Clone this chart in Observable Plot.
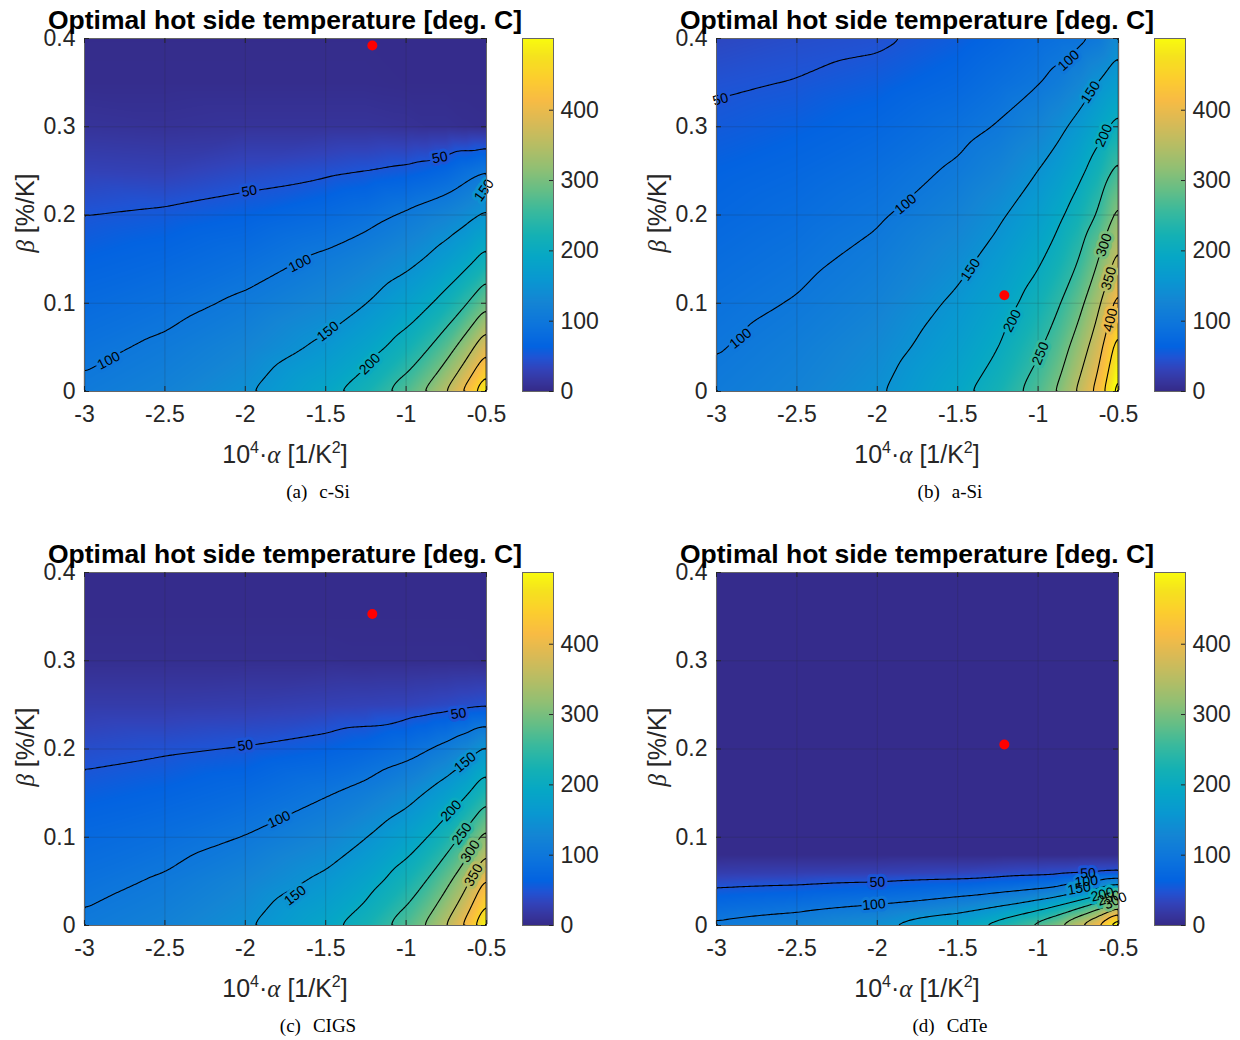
<!DOCTYPE html>
<html>
<head>
<meta charset="utf-8">
<script src="https://cdn.jsdelivr.net/npm/d3@7"></script>
<script src="https://cdn.jsdelivr.net/npm/@observablehq/plot@0.6"></script>
<style>
  html, body { margin: 0; padding: 0; background: #fff; }
  #fig { position: relative; width: 1240px; height: 1040px; overflow: hidden;
         font-family: "Liberation Sans", Arial, Helvetica, sans-serif; color: #262626; }
  .abs { position: absolute; }
  .title { font-weight: bold; font-size: 26.5px; line-height: 26px; color: #000; white-space: nowrap; transform: translateX(-50%); }
  .xlabel { font-size: 25px; line-height: 25px; white-space: nowrap; transform: translateX(-50%); }
  .ylabel { font-size: 25px; line-height: 25px; white-space: nowrap; transform: translate(-50%,-50%) rotate(-90deg); }
  .greek { font-family: "Liberation Serif", "DejaVu Serif", serif; font-style: italic; }
  .sup { font-size: 16px; position: relative; top: -10px; }
  .caption { font-family: "Liberation Serif", "Times New Roman", serif; font-size: 19px; line-height: 19px; color: #000; white-space: nowrap; transform: translateX(-50%); }
  svg { overflow: visible; }
</style>
</head>
<body>
<div id="fig"></div>
<script>
// ---------------- data ----------------
// grid of alpha (x, 10^4·α in 1/K^2) columns and beta (y, %/K) rows
const alphaCols = [-3, -2.5, -2, -1.5, -1.25, -1, -0.875, -0.75, -0.625, -0.5];
const betaRows = [0, 0.05, 0.1, 0.15, 0.2, 0.25, 0.3, 0.35, 0.4];
const betaRowsCdTe = [0, 0.02, 0.04, 0.06, 0.08, 0.4];

// optimal hot-side temperature [deg C]; one inner list per alpha column, values from beta=0 upward
const tempCSi = [
  [106, 92, 78, 64, 50, 30, 12, 4, 3],
  [121, 106, 89, 72, 55, 28, 10, 4, 3],
  [146, 126, 106, 85, 63, 38, 12, 4, 3],
  [189, 158, 131, 106, 77, 45, 12, 4, 3],
  [221, 182, 149, 120, 88, 50, 12, 4, 3],
  [271, 218, 176, 139, 105, 56, 10, 3, 3],
  [305, 244, 193, 152, 115, 62, 8, 3, 3],
  [352, 278, 216, 168, 125, 71, 8, 3, 3],
  [415, 326, 247, 187, 139, 87, 6, 3, 3],
  [495, 390, 292, 214, 156, 100, 5, 3, 3]
];
const tempASi = [
  [107, 98, 90, 81, 72, 64, 55, 47, 36],
  [122, 113, 102, 92, 82, 72, 61, 51, 42],
  [146, 134, 121, 109, 96, 84, 71, 58, 46],
  [189, 172, 157, 139, 122, 105, 89, 72, 58],
  [221, 199, 181, 163, 144, 123, 102, 85, 69],
  [270, 243, 218, 194, 172, 150, 124, 98, 82],
  [305, 275, 245, 217, 192, 167, 141, 109, 88],
  [357, 321, 284, 248, 218, 189, 161, 127, 92],
  [417, 379, 340, 298, 254, 220, 186, 151, 104],
  [530, 478, 422, 367, 315, 265, 212, 171, 138]
];
const tempCIGS = [
  [106, 90, 75, 59, 42, 22, 6, 3, 3],
  [121, 104, 85, 66, 47, 22, 6, 3, 3],
  [146, 126, 101, 77, 52, 24, 6, 3, 3],
  [189, 158, 127, 97, 62, 28, 6, 3, 3],
  [221, 183, 149, 112, 71, 30, 5, 3, 3],
  [271, 222, 178, 135, 86, 32, 5, 3, 3],
  [305, 250, 198, 152, 97, 35, 5, 3, 3],
  [352, 288, 226, 171, 111, 38, 5, 3, 3],
  [414, 338, 264, 195, 130, 42, 5, 3, 3],
  [500, 412, 318, 233, 157, 45, 4, 3, 3]
];
const tempCdTe = [
  [108, 81, 54, 24, 3, 3],
  [123, 92, 60, 26, 3, 3],
  [147, 107, 69, 28, 3, 3],
  [188, 133, 81, 32, 3, 3],
  [221, 155, 91, 36, 3, 3],
  [271, 188, 104, 40, 3, 3],
  [305, 212, 116, 42, 3, 3],
  [357, 246, 137, 45, 3, 3],
  [415, 289, 163, 48, 3, 3],
  [515, 350, 200, 51, 3, 3]
];

// inline contour labels: level, position (alpha, beta), text angle
const labelsCSi = [
  {level: 50, alpha: -1.975, beta: 0.227, angle: -10},
  {level: 50, alpha: -0.79, beta: 0.265, angle: -11},
  {level: 100, alpha: -2.85, beta: 0.035, angle: -27},
  {level: 100, alpha: -1.66, beta: 0.145, angle: -27},
  {level: 150, alpha: -1.486, beta: 0.068, angle: -38},
  {level: 150, alpha: -0.515, beta: 0.228, angle: -55},
  {level: 200, alpha: -1.225, beta: 0.031, angle: -45}
];
const labelsASi = [
  {level: 50, alpha: -2.975, beta: 0.331, angle: -16},
  {level: 100, alpha: -2.85, beta: 0.060, angle: -39},
  {level: 100, alpha: -1.824, beta: 0.212, angle: -40},
  {level: 100, alpha: -0.81, beta: 0.375, angle: -42},
  {level: 150, alpha: -1.42, beta: 0.138, angle: -56},
  {level: 150, alpha: -0.674, beta: 0.339, angle: -57},
  {level: 200, alpha: -1.161, beta: 0.080, angle: -63},
  {level: 200, alpha: -0.591, beta: 0.290, angle: -66},
  {level: 250, alpha: -0.985, beta: 0.043, angle: -68},
  {level: 300, alpha: -0.59, beta: 0.166, angle: -71},
  {level: 350, alpha: -0.56, beta: 0.128, angle: -73},
  {level: 400, alpha: -0.55, beta: 0.081, angle: -76}
];
const labelsCIGS = [
  {level: 50, alpha: -2.0, beta: 0.204, angle: -8},
  {level: 50, alpha: -0.674, beta: 0.240, angle: -9},
  {level: 100, alpha: -1.79, beta: 0.12, angle: -25},
  {level: 150, alpha: -1.69, beta: 0.034, angle: -38},
  {level: 150, alpha: -0.633, beta: 0.185, angle: -40},
  {level: 200, alpha: -0.72, beta: 0.13, angle: -47},
  {level: 250, alpha: -0.653, beta: 0.104, angle: -53},
  {level: 300, alpha: -0.6, beta: 0.084, angle: -57},
  {level: 350, alpha: -0.58, beta: 0.057, angle: -60}
];
const labelsCdTe = [
  {level: 50, alpha: -2.0, beta: 0.049, angle: -2},
  {level: 100, alpha: -2.02, beta: 0.0237, angle: -5},
  {level: 50, alpha: -0.69, beta: 0.059, angle: -3},
  {level: 100, alpha: -0.70, beta: 0.050, angle: -6},
  {level: 150, alpha: -0.745, beta: 0.042, angle: -10},
  {level: 200, alpha: -0.60, beta: 0.035, angle: -14},
  {level: 250, alpha: -0.56, beta: 0.031, angle: -18},
  {level: 300, alpha: -0.52, beta: 0.028, angle: -24}
];

// the material's own (alpha, beta) point (red dot)
const pointCSi = [{alpha: -1.21, beta: 0.392}];
const pointASi = [{alpha: -1.21, beta: 0.109}];
const pointCIGS = [{alpha: -1.21, beta: 0.353}];
const pointCdTe = [{alpha: -1.21, beta: 0.205}];

const panelLetters = ["a", "b", "c", "d"];
const panelNames = ["c-Si", "a-Si", "CIGS", "CdTe"];
const xTicks = [-3, -2.5, -2, -1.5, -1, -0.5];
const yTicks = [0, 0.1, 0.2, 0.3, 0.4];
const colorbarTicks = [0, 100, 200, 300, 400];
const contourLevels = [50, 100, 150, 200, 250, 300, 350, 400, 450, 500];
const colorMax = 502;
const titleText = "Optimal hot side temperature [deg. C]";

// ---------------- parula colormap ----------------
const parulaHex = ["#352a87","#3637a0","#3243ba","#2053d4","#0363e1","#0d75dc","#1485d4","#0998d1","#06a7c6","#15b1b4","#38b99e","#65be86","#92bf73","#b7bd64","#d9ba56","#f8bb44","#fcce2e","#f5e41d","#f9fb0e"];
const parulaIdx = [0,2,4,6,8,12,16,20,24,28,32,36,40,44,48,52,56,60,63];
const parulaScale = d3.scaleLinear().domain(parulaIdx.map(i => i / 63)).range(parulaHex).interpolate(d3.interpolateRgb).clamp(true);
const parula = t => parulaScale(t);
const colorOpts = {type: "linear", domain: [0, colorMax], interpolate: parula, clamp: true};

// ---------------- layout ----------------
const FW = 402, FH = 353;            // frame size
const ML = 75, MR = 40, MT = 10, MB = 50;
const CBW = 31, CBOFF = 438;         // colorbar width, offset from frame left
const AXC = "#262626";
const fontFam = '"Liberation Sans", Arial, Helvetica, sans-serif';

const panels = [
  {temps: tempCSi, rows: betaRows, labels: labelsCSi, point: pointCSi, left: 84, top: 38},
  {temps: tempASi, rows: betaRows, labels: labelsASi, point: pointASi, left: 716, top: 38},
  {temps: tempCIGS, rows: betaRows, labels: labelsCIGS, point: pointCIGS, left: 84, top: 572},
  {temps: tempCdTe, rows: betaRowsCdTe, labels: labelsCdTe, point: pointCdTe, left: 716, top: 572}
];

const fig = document.getElementById("fig");
function place(node, left, top) {
  node.style.position = "absolute";
  node.style.left = left + "px";
  node.style.top = top + "px";
  fig.appendChild(node);
}
function html(cls, inner, left, top) {
  const d = document.createElement("div");
  d.className = "abs " + cls;
  d.innerHTML = inner;
  d.style.left = left + "px";
  d.style.top = top + "px";
  fig.appendChild(d);
}

panels.forEach((p, k) => {
  const field = [];
  alphaCols.forEach((a, i) => p.rows.forEach((b, j) => field.push({alpha: a, beta: b, T: p.temps[i][j]})));
  const xExt = d3.extent(alphaCols), yExt = d3.extent(p.rows);
  const bounds = {x1: xExt[0], x2: xExt[1], y1: yExt[0], y2: yExt[1]};

  const chart = Plot.plot({
    width: FW + ML + MR, height: FH + MT + MB,
    marginLeft: ML, marginRight: MR, marginTop: MT, marginBottom: MB,
    x: {domain: xExt},
    y: {domain: yExt},
    color: colorOpts,
    style: {fontFamily: fontFam, fontSize: "23px", color: AXC, background: "none", overflow: "visible"},
    marks: [
      Plot.raster(field, {x: "alpha", y: "beta", fill: "T", interpolate: "barycentric", pixelSize: 1, ...bounds}),
      Plot.gridX(xTicks, {stroke: AXC, strokeOpacity: 0.18}),
      Plot.gridY(yTicks, {stroke: AXC, strokeOpacity: 0.18}),
      Plot.contour(field, {x: "alpha", y: "beta", value: "T", interpolate: "barycentric", thresholds: contourLevels,
        pixelSize: 2, blur: 2, ...bounds, stroke: "black", fill: "none", strokeWidth: 1.1}),
      // halo behind the inline labels (breaks the contour line), kept inside the frame
      Plot.text(p.labels, {x: "alpha", y: "beta", text: d => String(d.level), rotate: "angle",
        fill: "level", stroke: "level", strokeWidth: 6, strokeLinejoin: "round", clip: true,
        fontSize: 14, fontFamily: fontFam}),
      Plot.text(p.labels, {x: "alpha", y: "beta", text: d => String(d.level), rotate: "angle",
        fill: "black", fontSize: 14, fontFamily: fontFam}),
      Plot.dot(p.point, {x: "alpha", y: "beta", r: 5, fill: "#ff0000", stroke: "none"}),
      Plot.frame({stroke: "#666", strokeWidth: 1}),
      Plot.tickX(xTicks, {x: d => d, insetTop: FH - 5, stroke: AXC}),
      Plot.tickX(xTicks, {x: d => d, insetBottom: FH - 5, stroke: AXC}),
      Plot.tickY(yTicks, {y: d => d, insetRight: FW - 5, stroke: AXC}),
      Plot.tickY(yTicks, {y: d => d, insetLeft: FW - 5, stroke: AXC}),
      Plot.axisX(xTicks, {tickSize: 0, tickPadding: 14, fontSize: 23, tickFormat: d => String(d), label: null, fill: AXC}),
      Plot.axisY(yTicks, {tickSize: 0, tickPadding: 9, fontSize: 23, tickFormat: d => String(d), label: null, fill: AXC})
    ]
  });
  place(chart, p.left - ML, p.top - MT);

  // colorbar
  const cb = Plot.plot({
    width: CBW + 60, height: FH + MT + MB,
    marginLeft: 0, marginRight: 60, marginTop: MT, marginBottom: MB,
    x: {domain: [0, 1], axis: null},
    y: {domain: [0, colorMax]},
    color: colorOpts,
    style: {fontFamily: fontFam, fontSize: "23px", color: AXC, background: "none", overflow: "visible"},
    marks: [
      Plot.raster({fill: (x, y) => y, x1: 0, x2: 1, y1: 0, y2: colorMax, pixelSize: 1}),
      Plot.frame({stroke: "#666", strokeWidth: 1}),
      Plot.tickY(colorbarTicks, {y: d => d, insetLeft: CBW - 4, stroke: AXC}),
      Plot.axisY(colorbarTicks, {anchor: "right", tickSize: 0, tickPadding: 7, fontSize: 23, tickFormat: d => String(d), label: null, fill: AXC})
    ]
  });
  place(cb, p.left + CBOFF, p.top - MT);

  // texts
  const cx = p.left + FW / 2;
  html("title", titleText, cx, p.top - 31);
  html("xlabel", '10<span class="sup">4</span>·<span class="greek">α</span> [1/K<span class="sup">2</span>]', cx, p.top + 404);
  html("ylabel", '<span class="greek">β</span> [%/K]', p.left - 59, p.top + 175);
  html("caption", '(' + panelLetters[k] + ')<span style="display:inline-block;width:12px"></span>' + panelNames[k], p.left + 234, p.top + 444);
});
</script>
</body>
</html>
